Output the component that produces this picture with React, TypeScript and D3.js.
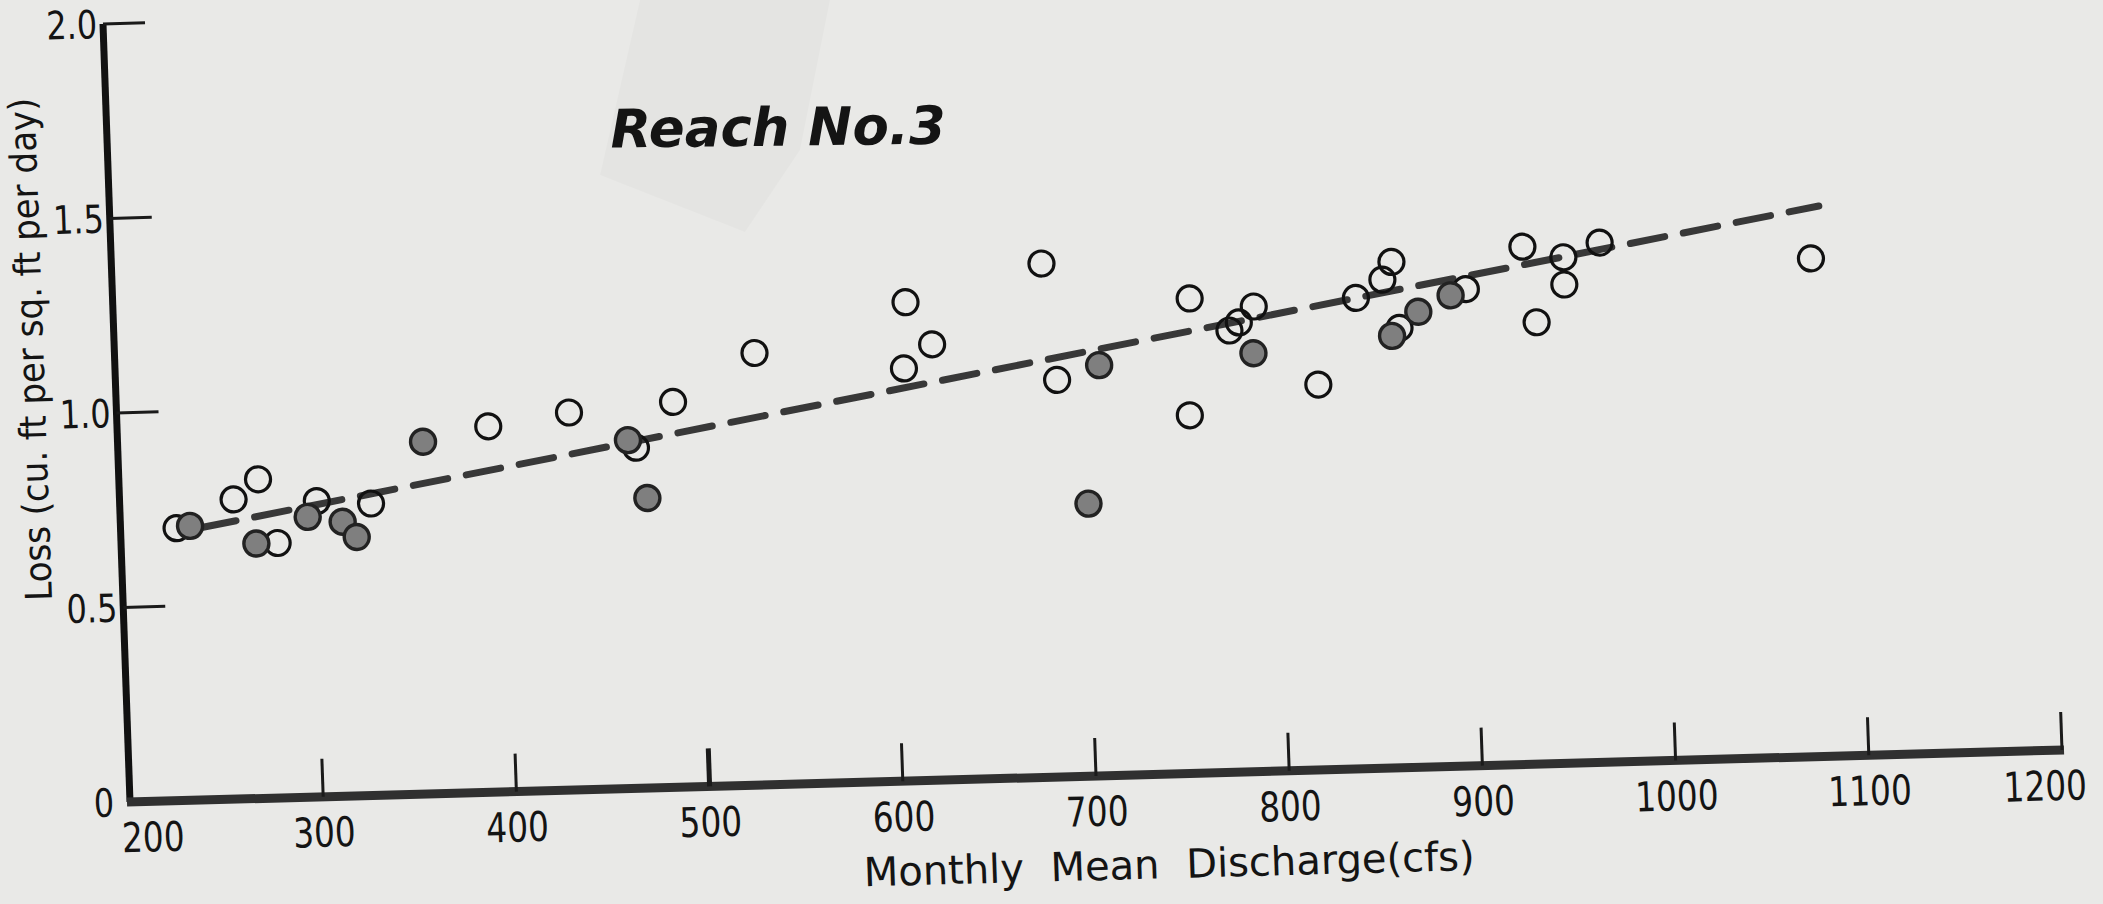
import React from 'react';
import * as d3 from 'd3';

// ---- data ----
const xTicks = [200, 300, 400, 500, 600, 700, 800, 900, 1000, 1100, 1200];
const yTicks = [0, 0.5, 1.0, 1.5, 2.0];
const yTickLabels = ['0', '0.5', '1.0', '1.5', '2.0'];

// open circles
const openX = [229, 259, 272, 281, 302, 330, 392, 434, 468, 488, 531, 610, 623, 608, 681, 687, 757, 755, 777, 782, 790, 822, 843, 857, 862, 865, 900, 930, 936, 951, 951, 970, 1079];
const openY = [0.70, 0.77, 0.82, 0.655, 0.76, 0.75, 0.94, 0.97, 0.875, 0.99, 1.11, 1.23, 1.12, 1.06, 1.32, 1.02, 1.22, 0.92, 1.135, 1.155, 1.195, 0.99, 1.21, 1.255, 1.30, 1.13, 1.225, 1.33, 1.135, 1.30, 1.23, 1.335, 1.28];

// filled (shaded) circles
const filledX = [236, 270, 297, 315, 322, 358, 464, 473, 701, 709, 789, 861, 875, 892];
const filledY = [0.705, 0.655, 0.72, 0.705, 0.665, 0.905, 0.895, 0.745, 0.70, 1.055, 1.075, 1.11, 1.17, 1.21];

// fitted dashed line end points
const fitX = [242, 1084];
const fitY = [0.70, 1.414];

const title = 'Reach No.3';
const xTitle = 'Monthly Mean Discharge(cfs)';
const yTitle = 'Loss (cu. ft per sq. ft per day)';

export default function App() {
  const W = 2103;
  const H = 904;
  const plotW = 1932;
  const plotH = 778;
  const x = d3.scaleLinear().domain([200, 1200]).range([0, plotW]);
  const y = d3.scaleLinear().domain([0, 2]).range([0, -plotH]);

  const fitLine = d3
    .line<number>()
    .x((d) => x(d))
    .y((_d, i) => y(fitY[i]));

  const font = "'DejaVu Sans', sans-serif";
  const ink = '#141414';
  const xMin = xTicks[0];
  const xMax = xTicks[xTicks.length - 1];

  return (
    <svg
      width={W}
      height={H}
      viewBox={`0 0 ${W} ${H}`}
      style={{ position: 'absolute', left: 0, top: 0, display: 'block' }}
    >
      <rect x={0} y={0} width={W} height={H} fill="#e9e9e7" />
      {/* faint tape patch on the paper */}
      <polygon points="640,0 830,0 800,150 745,232 600,175" fill="#000" opacity={0.018} />

      {/* the scanned sheet is slightly rotated/sheared */}
      <g transform={`matrix(1,-0.0269,0.0347,1,130,802)`}>
        {/* fitted dashed line */}
        <path
          d={fitLine(fitX) || ''}
          fill="none"
          stroke="#383838"
          strokeWidth={7}
          strokeLinecap="round"
          strokeDasharray="35 19"
        />

        {/* open circles */}
        {openX.map((v, i) => (
          <circle key={'o' + i} cx={x(v)} cy={y(openY[i])} r={12.5} fill="none" stroke="#111" strokeWidth={3.2} />
        ))}
        {/* filled circles */}
        {filledX.map((v, i) => (
          <circle key={'f' + i} cx={x(v)} cy={y(filledY[i])} r={12.5} fill="#7f7f7f" stroke="#222" strokeWidth={3.4} />
        ))}

        {/* y axis */}
        <line x1={0} y1={y(0)} x2={0} y2={y(2)} stroke="#111" strokeWidth={7} />
        {yTicks.slice(1).map((v) => (
          <line key={'yt' + v} x1={0} y1={y(v)} x2={42} y2={y(v)} stroke="#1a1a1a" strokeWidth={3} />
        ))}
        {yTicks.map((v, i) => (
          <text
            key={'yl' + v}
            transform={`translate(${v === 0 ? -16 : -6},${y(v) + 14}) scale(0.82,1)`}
            textAnchor="end"
            fontFamily={font}
            fontSize={39}
            fill={ink}
          >
            {yTickLabels[i]}
          </text>
        ))}

        {/* x axis */}
        <line x1={-3} y1={0} x2={x(1200) + 2} y2={0} stroke="#303030" strokeWidth={9} />
        {xTicks.slice(1).map((v) => (
          <line key={'xt' + v} x1={x(v)} y1={0} x2={x(v)} y2={-38} stroke="#1a1a1a" strokeWidth={v === 500 ? 5 : 3} />
        ))}
        {xTicks.map((v) => (
          <text
            key={'xl' + v}
            transform={`translate(${x(v) + (v === xMin ? 22 : v === xMax ? -18 : 0)},50) scale(0.8,1)`}
            textAnchor="middle"
            fontFamily={font}
            fontSize={41}
            fill={ink}
          >
            {v}
          </text>
        ))}

        {/* axis titles */}
        <text
          x={1036}
          y={104}
          textAnchor="middle"
          fontFamily={font}
          fontSize={40}
          wordSpacing={14}
          fill={ink}
        >
          {xTitle}
        </text>
        <text
          transform={`translate(-71,-455) rotate(-90) scale(0.92,1)`}
          textAnchor="middle"
          fontFamily={font}
          fontSize={37}
          fill={ink}
        >
          {yTitle}
        </text>

        {/* chart title */}
        <text
          transform={`translate(503,-641) rotate(0.9)`}
          fontFamily={font}
          fontStyle="italic"
          fontWeight="bold"
          fontSize={53}
          fill={ink}
        >
          {title}
        </text>
      </g>
    </svg>
  );
}
